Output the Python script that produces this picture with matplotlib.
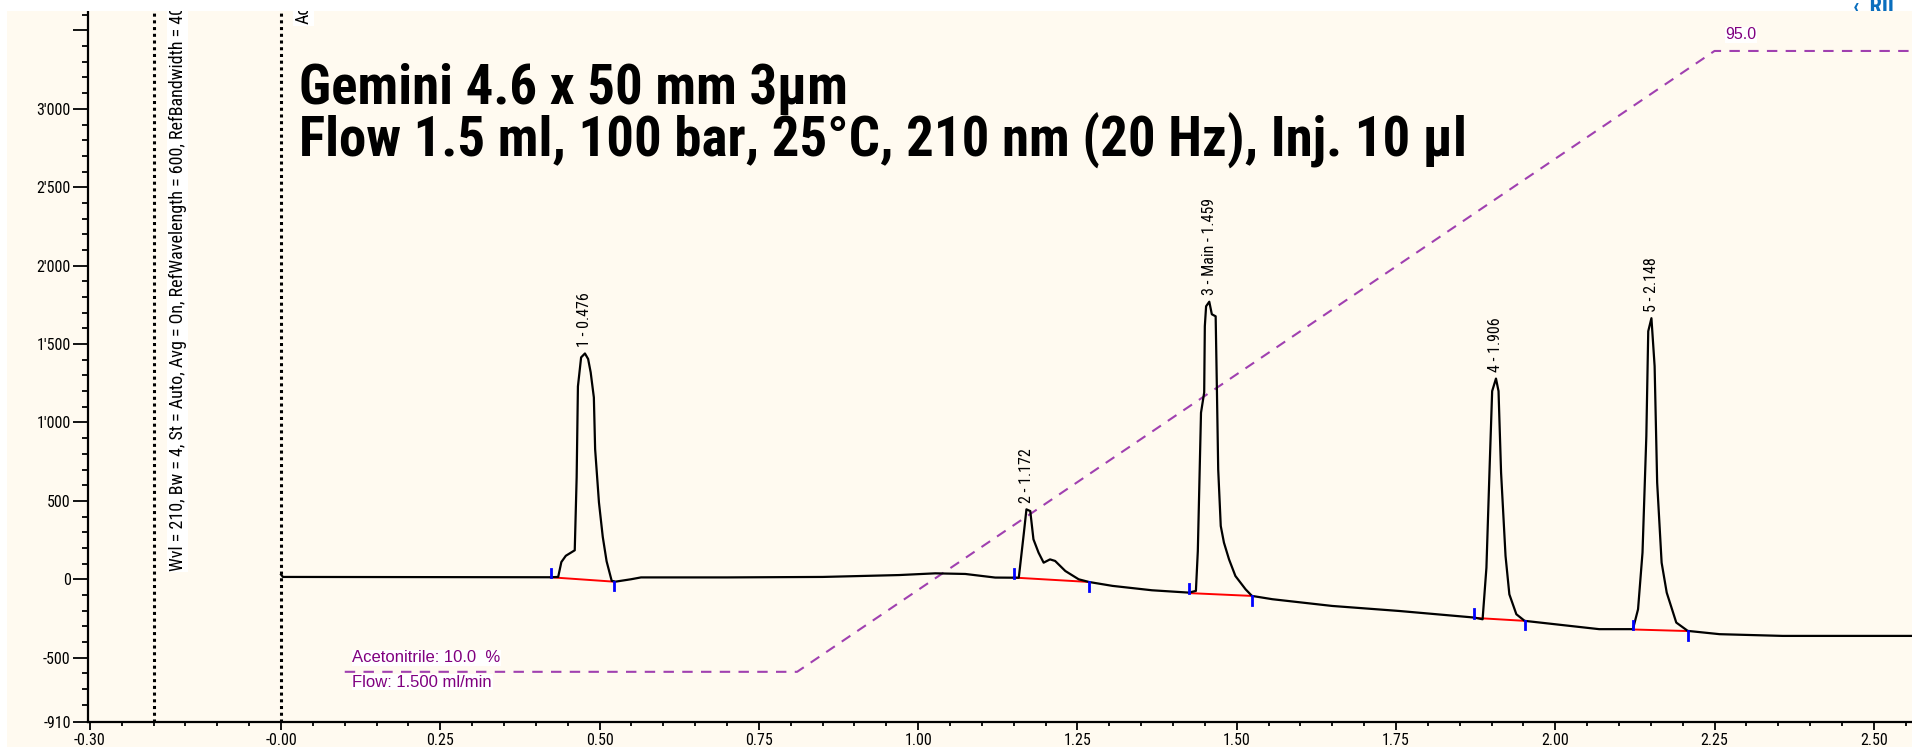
import numpy as np
import matplotlib
matplotlib.use("Agg")
import matplotlib.pyplot as plt
from matplotlib.patches import Rectangle
from matplotlib.ticker import MultipleLocator, FixedLocator
from matplotlib.transforms import Bbox, TransformedBbox

plt.rcParams['font.family'] = ['Roboto Condensed', 'DejaVu Sans']

# chromatogram trace (time in min, signal in mAU)
time = [0.000, 0.003, 0.423, 0.435, 0.440, 0.447, 0.461, 0.464, 0.466, 0.471,
        0.477, 0.482, 0.486, 0.491, 0.493, 0.499, 0.505, 0.511, 0.519, 0.525,
        0.549, 0.565, 0.700, 0.850, 0.970, 1.027, 1.074, 1.121, 1.158, 1.166,
        1.170, 1.176, 1.181, 1.189, 1.197, 1.207, 1.215, 1.231, 1.252, 1.268,
        1.305, 1.367, 1.425, 1.436, 1.439, 1.444, 1.449, 1.450, 1.452, 1.457,
        1.461, 1.467, 1.469, 1.471, 1.475, 1.480, 1.488, 1.498, 1.514, 1.524,
        1.556, 1.650, 1.755, 1.873, 1.886, 1.892, 1.897, 1.901, 1.907, 1.911,
        1.915, 1.922, 1.928, 1.939, 1.952, 2.069, 2.122, 2.130, 2.137, 2.143,
        2.146, 2.151, 2.156, 2.160, 2.167, 2.175, 2.190, 2.208, 2.258, 2.357,
        2.560]
signal = [30, 15, 13, 15, 110, 150, 185, 650, 1230, 1415,
          1440, 1405, 1320, 1160, 830, 490, 270, 115, -10, -15,
          0, 12, 12, 15, 27, 38, 34, 11, 10, 297,
          446, 435, 255, 170, 106, 127, 117, 53, 0, -17,
          -42, -70, -85, -74, 180, 1062, 1191, 1614, 1741, 1770,
          1690, 1677, 1200, 700, 340, 234, 127, 21, -64, -106,
          -127, -170, -202, -244, -255, 74, 711, 1200, 1280, 1200,
          680, 149, -96, -223, -265, -318, -318, -191, 170, 913,
          1582, 1665, 1359, 616, 106, -85, -276, -329, -350, -361,
          -361]

peak_times = [0.477, 1.170, 1.457, 1.907, 2.151]
peak_labels = ["1 - 0.476", "2 - 1.172", "3 - Main - 1.459", "4 - 1.906", "5 - 2.148"]

# integration baselines (start / end of each peak)
int_start_t = [0.423, 1.150, 1.425, 1.873, 2.122]
int_start_v = [13, 11, -88, -246, -320]
int_end_t = [0.522, 1.268, 1.524, 1.952, 2.208]
int_end_v = [-15, -17, -106, -265, -330]

# solvent gradient (acetonitrile %, drawn in signal units)
grad_t = [0.10, 0.81, 2.25, 2.56]
grad_v = [-590, -590, 3369, 3369]

x_major = [-0.30, 0.00, 0.25, 0.50, 0.75, 1.00, 1.25, 1.50, 1.75, 2.00, 2.25, 2.50]
x_labels = ["-0.30", "-0.00", "0.25", "0.50", "0.75", "1.00", "1.25", "1.50",
            "1.75", "2.00", "2.25", "2.50"]
y_major = [-910, -500, 0, 500, 1000, 1500, 2000, 2500, 3000, 3500]
y_labels = ["-910", "-500", "0", "500", "1'000", "1'500", "2'000", "2'500", "3'000", ""]

W, H = 1912, 747
cream = "#FFFAF0"
purple_line = "#A040B0"
purple_text = "#800080"
sans = ["Liberation Sans", "DejaVu Sans"]

fig = plt.figure(figsize=(W / 100, H / 100), dpi=100, facecolor="white")
fig.patches.append(Rectangle((7 / W, 0), 1, 1 - 11 / H, transform=fig.transFigure,
                             facecolor=cream, edgecolor="none", zorder=-10))

ax = fig.add_axes([88 / W, 25 / H, 1 - 88 / W, 1 - 25 / H])
ax.set_facecolor(cream)
ax.set_xlim(-0.303, 2.56)
ax.set_ylim(-910, 3694)

# dotted markers
for xv in [-0.20, 0.00]:
    ax.axvline(xv, color="black", lw=2.2, ls=(0, (1, 1.2)), zorder=2)

ax.text(-0.162, 55, "Wvl = 210, Bw = 4, St = Auto, Avg = On, RefWavelength = 600, RefBandwidth = 40",
        rotation=90, ha="center", va="bottom", fontsize=13, color="black", zorder=3,
        bbox=dict(facecolor="white", edgecolor="none", pad=1))
ax.text(0.035, 3540, "Acquisition", rotation=90, ha="center", va="bottom", fontsize=13,
        color="black", zorder=3, bbox=dict(facecolor="white", edgecolor="none", pad=1))

# gradient
ax.plot(grad_t, grad_v, color=purple_line, lw=1.5, ls=(0, (5, 4)), zorder=2)
ax.text(0.112, -500, "Acetonitrile: 10.0  %", color=purple_text, fontsize=12, family=sans,
        ha="left", va="center", zorder=3,
        bbox=dict(facecolor="white", edgecolor="none", pad=0.5))
ax.text(0.112, -655, "Flow: 1.500 ml/min", color=purple_text, fontsize=12, family=sans,
        ha="left", va="center", zorder=3,
        bbox=dict(facecolor="white", edgecolor="none", pad=0.5))
ax.text(2.267, 3471, "95.0", color=purple_text, fontsize=11.5, family=sans,
        ha="left", va="center", zorder=3,
        bbox=dict(facecolor="white", edgecolor="none", pad=0.5))

# trace
ax.plot(time, signal, color="black", lw=1.6, zorder=4)

# integration baselines and markers
for ts, vs, te, ve in zip(int_start_t, int_start_v, int_end_t, int_end_v):
    ax.plot([ts, te], [vs, ve], color="#FF0000", lw=1.4, zorder=3)
    ax.plot([ts, ts], [vs, vs + 55], color="#0000FF", lw=2, zorder=5)
    ax.plot([te, te], [ve, ve - 55], color="#0000FF", lw=2, zorder=5)

t_arr = np.array(time)
s_arr = np.array(signal)
for pt, lab in zip(peak_times, peak_labels):
    top = s_arr[np.abs(t_arr - pt) < 0.012].max()
    ax.text(pt, top + 40, lab, rotation=90, ha="center", va="bottom", fontsize=11.5,
            color="black", zorder=5)

# axes styling
for side in ["top", "right"]:
    ax.spines[side].set_visible(False)
for side in ["left", "bottom"]:
    ax.spines[side].set_linewidth(1.6)
ax.set_xticks(x_major)
ax.set_xticklabels(x_labels)
ax.xaxis.set_minor_locator(MultipleLocator(0.05))
ax.set_yticks(y_major)
ax.set_yticklabels(y_labels)
ax.yaxis.set_minor_locator(FixedLocator(list(range(-800, 3700, 100))))
ax.tick_params(axis="y", which="major", direction="out", length=11, width=1.3,
               labelsize=11.5, pad=1.5, colors="black")
ax.tick_params(axis="y", which="minor", direction="out", length=4, width=1.3)
ax.tick_params(axis="x", which="major", direction="out", length=6, width=1.3,
               labelsize=11.5, pad=2, colors="black")
ax.tick_params(axis="x", which="minor", direction="out", length=3, width=1.3)

# heading
fig.text(299 / W, 1 - 104 / H, "Gemini 4.6 x 50 mm 3µm", fontsize=39.5, fontweight="heavy",
         ha="left", va="baseline", color="black", zorder=6)
fig.text(299 / W, 1 - 156 / H, "Flow 1.5 ml, 100 bar, 25°C, 210 nm (20 Hz), Inj. 10 µl",
         fontsize=39.5, fontweight="heavy", ha="left", va="baseline", color="black", zorder=6)

# white page strip on top, with the cut-off page link
fig.patches.append(Rectangle((0, 1 - 11 / H), 1, 11 / H, transform=fig.transFigure,
                             facecolor="white", edgecolor="none", zorder=20))
link = fig.text(1853 / W, 1 + 4 / H, "‹  RII", fontsize=16, fontweight="bold",
                color="#0A6EBD", ha="left", va="top", zorder=21)
link.set_clip_box(TransformedBbox(Bbox([[0, 1 - 11 / H], [1, 1]]), fig.transFigure))
link.set_clip_on(True)

fig.savefig("out.png", dpi=100, facecolor="white")
